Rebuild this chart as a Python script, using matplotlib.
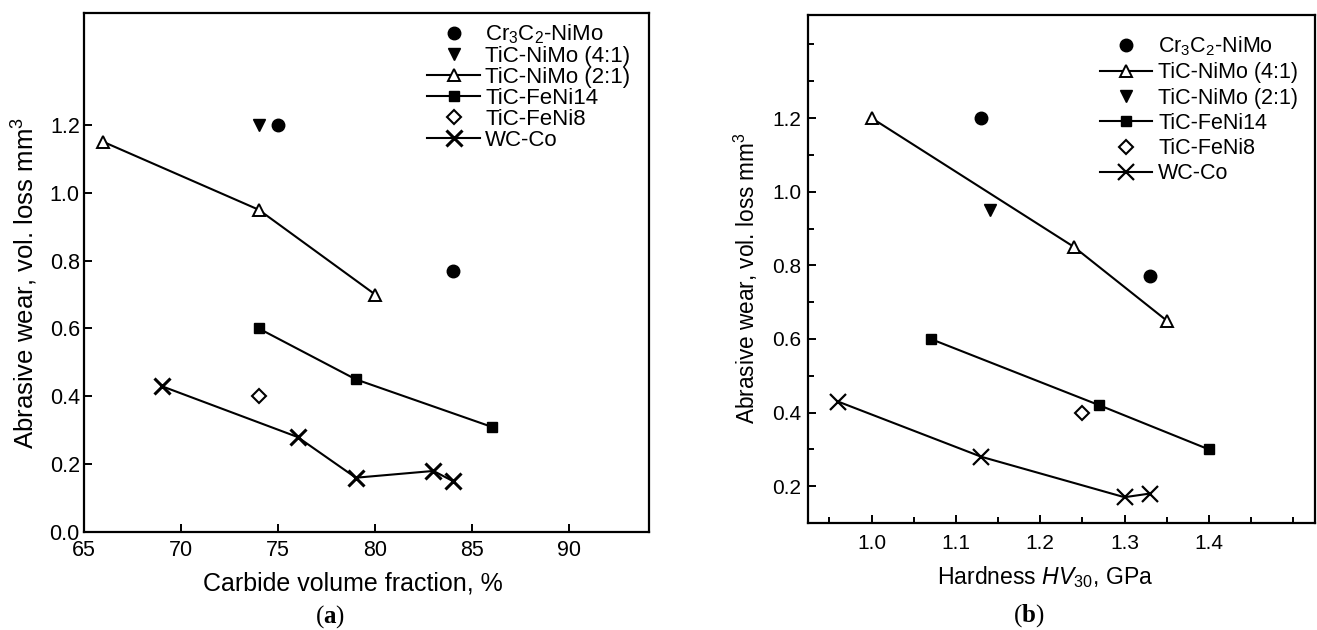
import matplotlib
matplotlib.use("Agg")
import matplotlib.pyplot as plt
from matplotlib.ticker import MultipleLocator

plt.rcParams["font.family"] = ["Liberation Sans", "DejaVu Sans"]
plt.rcParams["mathtext.fontset"] = "custom"
plt.rcParams["mathtext.rm"] = "Liberation Sans"
plt.rcParams["mathtext.it"] = "Liberation Sans:italic"
plt.rcParams["mathtext.bf"] = "Liberation Serif:bold"

# panel (a): wear vs carbide volume fraction
a_cr_x = [75, 84]
a_cr_y = [1.20, 0.77]
a_nimo41_x = [74]
a_nimo41_y = [1.20]
a_nimo21_x = [66, 74, 80]
a_nimo21_y = [1.15, 0.95, 0.70]
a_feni14_x = [74, 79, 86]
a_feni14_y = [0.60, 0.45, 0.31]
a_feni8_x = [74]
a_feni8_y = [0.40]
a_wcco_x = [69, 76, 79, 83, 84]
a_wcco_y = [0.43, 0.28, 0.16, 0.18, 0.15]

# panel (b): wear vs hardness
b_cr_x = [1.13, 1.33]
b_cr_y = [1.20, 0.77]
b_nimo41_x = [1.00, 1.24, 1.35]
b_nimo41_y = [1.20, 0.85, 0.65]
b_nimo21_x = [1.14]
b_nimo21_y = [0.95]
b_feni14_x = [1.07, 1.27, 1.40]
b_feni14_y = [0.60, 0.42, 0.30]
b_feni8_x = [1.25]
b_feni8_y = [0.40]
b_wcco_x = [0.96, 1.13, 1.30, 1.33]
b_wcco_y = [0.43, 0.28, 0.17, 0.18]

lab_cr = "Cr$_3$C$_2$-NiMo"
lab_41 = "TiC-NiMo (4:1)"
lab_21 = "TiC-NiMo (2:1)"
lab_f14 = "TiC-FeNi14"
lab_f8 = "TiC-FeNi8"
lab_wc = "WC-Co"

W, H = 1317, 630
fig = plt.figure(figsize=(W / 100, H / 100), dpi=100)


def px_axes(x0, y0, x1, y1):
    return fig.add_axes([x0 / W, 1 - y1 / H, (x1 - x0) / W, (y1 - y0) / H])


def style(ax, xpad, ypad):
    for s in ax.spines.values():
        s.set_linewidth(1.6)
    ax.tick_params(which="both", direction="in", labelsize=15.5, width=1.4)
    ax.tick_params(axis="x", pad=xpad)
    ax.tick_params(axis="y", pad=ypad)
    ax.tick_params(which="major", length=6)
    ax.tick_params(which="minor", length=4)


k = "black"
lw = 1.5

# ---- panel (a)
ax1 = px_axes(84, 13, 649, 532)
ax1.plot(a_cr_x, a_cr_y, "o", color=k, ms=9, label=lab_cr)
ax1.plot(a_nimo41_x, a_nimo41_y, "v", color=k, ms=9, label=lab_41)
ax1.plot(a_nimo21_x, a_nimo21_y, "-^", color=k, lw=lw, ms=9, mfc="white", mew=1.4, label=lab_21)
ax1.plot(a_feni14_x, a_feni14_y, "-s", color=k, lw=lw, ms=7, label=lab_f14)
ax1.plot(a_feni8_x, a_feni8_y, "D", color=k, ms=7, mfc="white", mew=1.5, label=lab_f8)
ax1.plot(a_wcco_x, a_wcco_y, "-x", color=k, lw=lw, ms=12, mew=2.2, label=lab_wc)
ax1.set_xlim(65, 94.1)
ax1.set_ylim(0, 1.53)
ax1.xaxis.set_major_locator(MultipleLocator(5))
ax1.set_yticks([0.0, 0.2, 0.4, 0.6, 0.8, 1.0, 1.2])
ax1.yaxis.set_major_formatter(plt.FormatStrFormatter("%.1f"))
style(ax1, 6, 3)
ax1.legend(loc="upper left", bbox_to_anchor=(0.607, 0.982), frameon=False, fontsize=16,
           borderpad=0, borderaxespad=0, handlelength=2.4, handletextpad=0.22,
           labelspacing=0.0)

# ---- panel (b)
ax2 = px_axes(808, 15, 1315, 523)
ax2.plot(b_cr_x, b_cr_y, "o", color=k, ms=9, label=lab_cr)
ax2.plot(b_nimo41_x, b_nimo41_y, "-^", color=k, lw=lw, ms=9, mfc="white", mew=1.4, label=lab_41)
ax2.plot(b_nimo21_x, b_nimo21_y, "v", color=k, ms=9, label=lab_21)
ax2.plot(b_feni14_x, b_feni14_y, "-s", color=k, lw=lw, ms=7, label=lab_f14)
ax2.plot(b_feni8_x, b_feni8_y, "D", color=k, ms=7, mfc="white", mew=1.5, label=lab_f8)
ax2.plot(b_wcco_x, b_wcco_y, "-x", color=k, lw=lw, ms=11, mew=1.6, label=lab_wc)
ax2.set_xlim(0.9245, 1.526)
ax2.set_ylim(0.10, 1.48)
ax2.set_xticks([1.0, 1.1, 1.2, 1.3, 1.4])
ax2.xaxis.set_minor_locator(MultipleLocator(0.05))
ax2.set_yticks([0.2, 0.4, 0.6, 0.8, 1.0, 1.2])
ax2.yaxis.set_minor_locator(MultipleLocator(0.1))
ax2.xaxis.set_major_formatter(plt.FormatStrFormatter("%.1f"))
ax2.yaxis.set_major_formatter(plt.FormatStrFormatter("%.1f"))
style(ax2, 8, 5)
ax2.tick_params(labelsize=15)
ax2.legend(loc="upper left", bbox_to_anchor=(0.576, 0.962), frameon=False, fontsize=15.5,
           borderpad=0, borderaxespad=0, handlelength=2.4, handletextpad=0.3,
           labelspacing=0.2)

# axis titles and panel letters
ylab = "Abrasive wear, vol. loss mm$^3$"
fig.text(25 / W, 1 - 283 / H, ylab, rotation=90, ha="center", va="center", fontsize=18.5)
fig.text(746 / W, 1 - 278 / H, ylab, rotation=90, ha="center", va="center", fontsize=16.3)
fig.text(353 / W, 1 - 583 / H, "Carbide volume fraction, %", ha="center", va="center", fontsize=18)
fig.text(1045 / W, 1 - 577 / H, r"Hardness $\mathit{HV}_{30}$, GPa", ha="center", va="center",
         fontsize=16.6)
fig.text(330 / W, 1 - 617 / H, r"($\mathbf{a}$)", ha="center", va="center", fontsize=18,
         family="Liberation Serif")
fig.text(1029 / W, 1 - 616 / H, r"($\mathbf{b}$)", ha="center", va="center", fontsize=18,
         family="Liberation Serif")

fig.savefig("out.png", dpi=100)
